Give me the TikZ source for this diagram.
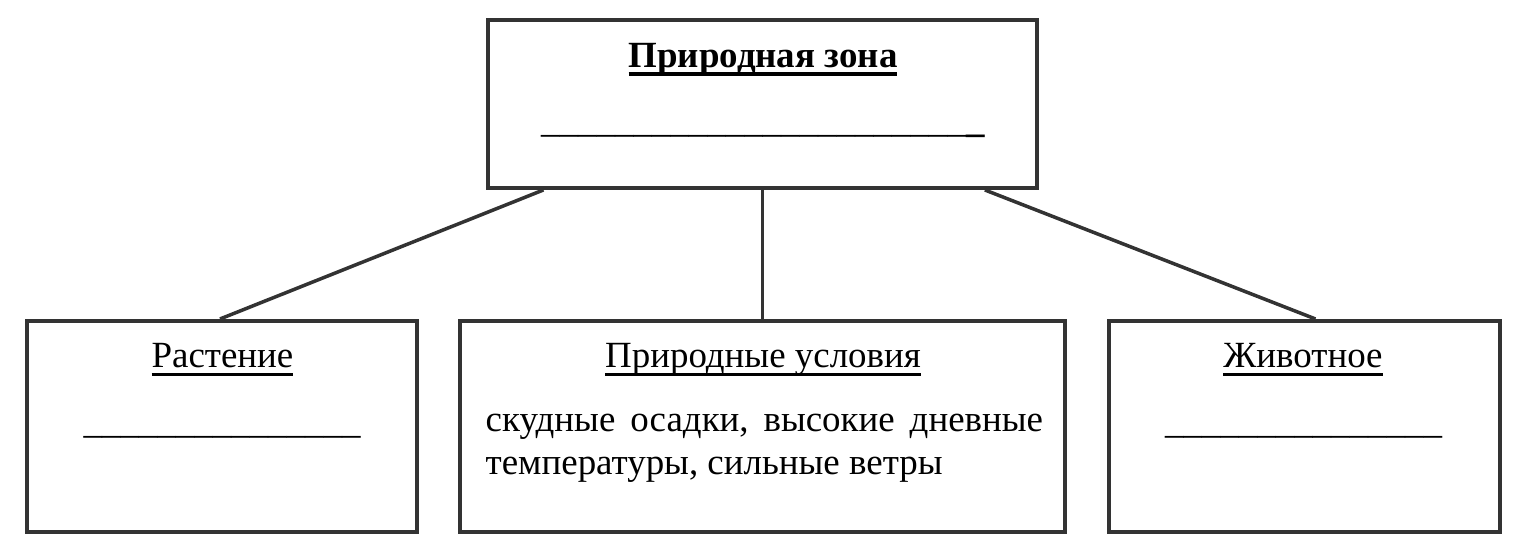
\documentclass[tikz,border=0pt]{standalone}
\usepackage{fontspec}
\setmainfont{Liberation Serif}
\usetikzlibrary{calc}
\newcommand\ulbox[2]{\setbox0\hbox{#2}\rlap{\rule[-2.2pt]{\wd0}{#1}}\box0}
\begin{document}
\begin{tikzpicture}[x = 0.01cm, y = -0.01cm,
        box/.style = {draw = black!80, line width = 1.1pt, inner sep = 0pt},
        link/.style = {draw = black!80, line width = 1pt},
        txt/.style = {font = \fontsize{10.5}{12}\selectfont, inner sep = 0pt, anchor = base}]
                \useasboundingbox (0, 0) rectangle (1520, 559);
                % boxes
                \node[box, minimum width = 5.49cm, minimum height = 1.68cm] (zone) at (762.5, 104) {};
                \node[box, minimum width = 3.90cm, minimum height = 2.11cm] (plant) at (222, 426.5) {};
                \node[box, minimum width = 6.05cm, minimum height = 2.11cm] (cond) at (762.5, 426.5) {};
                \node[box, minimum width = 3.91cm, minimum height = 2.11cm] (animal) at (1304.5, 426.5) {};
                % links
                \draw[link] ($(zone.south west)!0.104!(zone.south east)$) -- ($(plant.north) + (-2, 0)$);
                \draw[link] (zone.south) -- (cond.north);
                \draw[link] ($(zone.south west)!0.902!(zone.south east)$) -- ($(animal.north) + (11, 0)$);
                % texts
                \node[txt] (zonetitle) at (763, 68) {\ulbox{1pt}{\textbf{Природная зона}}};
                \node[txt] (zoneblank) at (763, 133) {\foreach \i in {1,...,23}{\_}\textbf{\_}};
                \node[txt] (planttitle) at (222.5, 368) {\ulbox{0.7pt}{Растение}};
                \node[txt] (plantblank) at (222, 434) {\foreach \i in {1,...,15}{\_}};
                \node[txt] (condtitle) at (763, 368) {\ulbox{0.7pt}{Природные условия}};
                \node[txt, anchor = base west] (condline1) at (485, 432) {\makebox[5.57cm][s]{скудные\hfill осадки,\hfill высокие\hfill дневные}};
                \node[txt, anchor = base west] (condline2) at (485, 475) {температуры, сильные ветры};
                \node[txt] (animaltitle) at (1303, 368) {\ulbox{0.7pt}{Животное}};
                \node[txt] (animalblank) at (1303.5, 434) {\foreach \i in {1,...,15}{\_}};
\end{tikzpicture}
\end{document}
